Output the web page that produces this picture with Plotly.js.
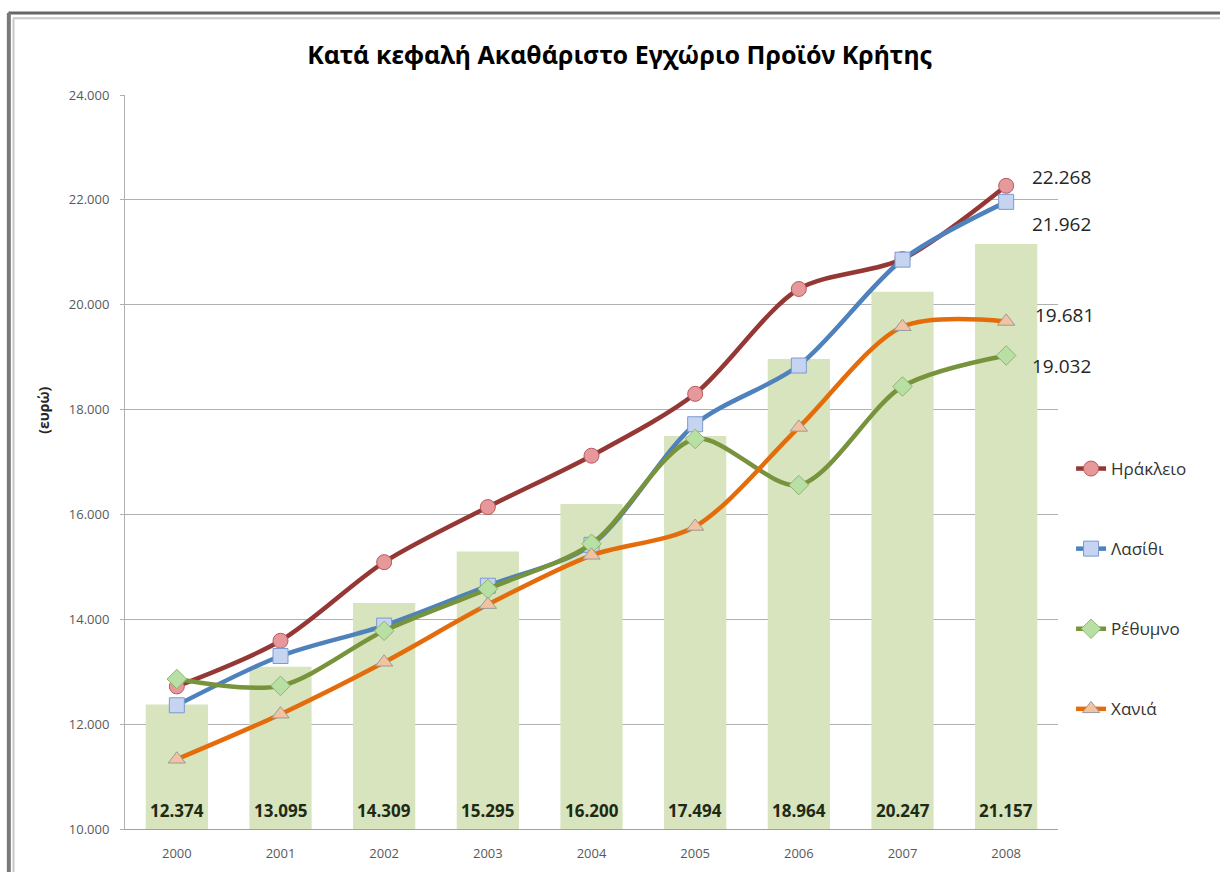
<!DOCTYPE html>
<html>
<head>
<meta charset="utf-8">
<script src="https://cdn.plot.ly/plotly-3.0.1.min.js"></script>
<style>
  body { margin: 0; background: #fff; }
  #chart { width: 1220px; height: 872px; }
</style>
</head>
<body>
<div id="chart"></div>
<script>
var years = [2000, 2001, 2002, 2003, 2004, 2005, 2006, 2007, 2008];
var crete = [12374, 13095, 14309, 15295, 16200, 17494, 18964, 20247, 21157];
var heraklion = [12720, 13590, 15090, 16140, 17120, 18300, 20300, 20870, 22268];
var lasithi = [12360, 13300, 13880, 14640, 15420, 17720, 18840, 20860, 21962];
var rethymno = [12860, 12730, 13780, 14580, 15440, 17440, 16560, 18440, 19032];
var chania = [11330, 12190, 13180, 14280, 15220, 15770, 17660, 19580, 19681];

var names = ["Ηράκλειο", "Λασίθι", "Ρέθυμνο", "Χανιά"];
var series = [heraklion, lasithi, rethymno, chania];
var lineColors = ["#953735", "#4f81bd", "#77933c", "#e46c0a"];
var fillColors = ["#e6989a", "#c5d4f1", "#b8e0a4", "#f3c3a1"];
var edgeColors = ["#b65c5e", "#7d99cf", "#8fb46f", "#9a9a9a"];
var symbols = ["circle", "square", "diamond", "triangle-up"];

var yMin = 10000, yMax = 24000;

function fmt(v) {
  return Math.round(v).toString().replace(/\B(?=(\d{3})+(?!\d))/g, ".");
}

var data = [{
  x: years,
  y: crete,
  type: "bar",
  width: 0.6,
  marker: {color: "#d7e4bd"},
  showlegend: false,
  hoverinfo: "skip"
}];

series.forEach(function (s, i) {
  data.push({
    x: years,
    y: s,
    name: names[i],
    legendgroup: "g" + i,
    type: "scatter",
    mode: "lines+markers",
    line: {color: lineColors[i], width: 4.5, shape: "spline", smoothing: 0.85},
    marker: {symbol: symbols[i], size: 15, color: fillColors[i], line: {color: edgeColors[i], width: 1}}
  });
});

// labels for the last year (order: Ηράκλειο, Λασίθι, Ρέθυμνο, Χανιά)
var endShift = [[24, 9], [24, -22], [24, -11], [27, 6]];
var annotations = series.map(function (s, i) {
  return {
    x: years[years.length - 1],
    y: s[s.length - 1],
    xref: "x", yref: "y",
    text: fmt(s[s.length - 1]),
    showarrow: false,
    xanchor: "left",
    xshift: endShift[i][0],
    yshift: endShift[i][1],
    font: {family: "Open Sans, sans-serif", size: 19, color: "#262626"}
  };
});

// bar values written at the foot of each bar
crete.forEach(function (v, i) {
  annotations.push({
    x: years[i], y: yMin, xref: "x", yref: "y",
    text: "<b>" + fmt(v) + "</b>",
    showarrow: false,
    yanchor: "middle",
    yshift: 19,
    font: {family: "Open Sans, sans-serif", size: 17, color: "#1e2a14"}
  });
});

annotations.push({
  x: -0.1, y: 0.57, xref: "paper", yref: "paper",
  text: "<b>(ευρώ)</b>", textangle: -90, showarrow: false,
  font: {family: "Open Sans, sans-serif", size: 14, color: "#262626"}
});

var layout = {
  width: 1220,
  height: 872,
  margin: {l: 125, r: 162, t: 95, b: 43},
  paper_bgcolor: "#fff",
  plot_bgcolor: "#fff",
  separators: ",.",
  title: {
    text: "<b>Κατά κεφαλή Ακαθάριστο Εγχώριο Προϊόν Κρήτης</b>",
    x: 0.508, xanchor: "center",
    y: 0.937, yanchor: "middle",
    font: {family: "Noto Sans, sans-serif", size: 25, color: "#000"}
  },
  xaxis: {
    range: [1999.5, 2008.5],
    dtick: 1,
    tickformat: "d",
    showgrid: false,
    zeroline: false,
    showline: true,
    linecolor: "#a0a0a0",
    linewidth: 1,
    ticks: "",
    ticklabelstandoff: 12,
    tickfont: {family: "Open Sans, sans-serif", size: 13, color: "#595959"}
  },
  yaxis: {
    range: [yMin, yMax],
    dtick: 2000,
    tickformat: ",.0f",
    showgrid: true,
    gridcolor: "#b0b0b0",
    gridwidth: 1,
    showline: true,
    linecolor: "#b0b0b0",
    ticks: "outside",
    ticklen: 4,
    tickcolor: "#b0b0b0",
    ticklabelstandoff: 8,
    zeroline: false,
    tickfont: {family: "Open Sans, sans-serif", size: 13, color: "#595959"}
  },
  legend: {
    x: 1.014, xanchor: "left",
    y: 0.515, yanchor: "top",
    tracegroupgap: 55,
    font: {family: "Open Sans, sans-serif", size: 17, color: "#333"},
    bgcolor: "rgba(0,0,0,0)"
  },
  annotations: annotations,
  shapes: [
    {type: "line", xref: "paper", yref: "paper", x0: -0.125, x1: 1.18, y0: 1.1117, y1: 1.1117, line: {color: "#666", width: 3}},
    {type: "line", xref: "paper", yref: "paper", x0: -0.12, x1: 1.18, y0: 1.1045, y1: 1.1045, line: {color: "#c8c8c8", width: 2}},
    {type: "line", xref: "paper", yref: "paper", x0: -0.1245, x1: -0.1245, y0: 1.1117, y1: -0.06, line: {color: "#7a7a7a", width: 4}},
    {type: "line", xref: "paper", yref: "paper", x0: -0.1195, x1: -0.1195, y0: 1.1045, y1: -0.06, line: {color: "#c8c8c8", width: 2}}
  ]
};

Plotly.newPlot("chart", data, layout, {displayModeBar: false});
</script>
</body>
</html>
